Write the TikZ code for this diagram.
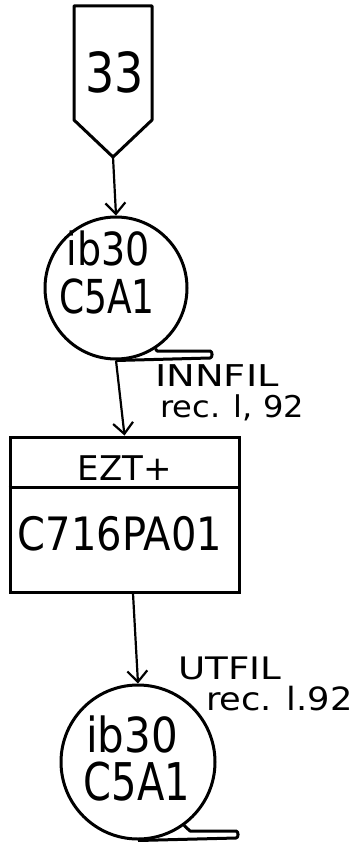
\documentclass[tikz,border=0pt]{standalone}
\usepackage{graphicx}
\usepackage{fontspec}
\setmainfont{DejaVu Sans}
\usetikzlibrary{arrows.meta}

\newcommand{\fs}[1]{\fontsize{#1}{#1}\selectfont}
\newcommand{\tall}[2]{\scalebox{1}[#1]{#2}}
\newcommand{\wide}[2]{\scalebox{#1}[1]{#2}}

\begin{document}
\begin{tikzpicture}[x=1pt, y=-1pt,
    flow/.style={line width=3pt, line join=round},
    link/.style={line width=2.2pt, -{Straight Barb[length=11pt,width=20pt]}},
    tape/.style={draw, circle, line width=3pt, inner sep=0pt},
    txt/.style={inner sep=0pt, anchor=base}]
  \useasboundingbox (0,0) rectangle (360,842);

  % off-page connector
  \draw[flow] (74,6) -- (152,6) -- (152,120) -- (113,157) coordinate (tip) -- (74,120) -- cycle;
  \node[txt, font=\fs{46}] (pg) at (115,93) {\tall{1.2}{33}};

  % input tape
  \node[tape, minimum size=142pt] (t1) at (116,288) {};
  \draw[flow] (t1.-57) -- (157,351) -- (210,351) to[out=0,in=0] (210,358) -- (t1.south);
  \node[txt, font=\fs{38}] (t1a) at (108,265) {\tall{1.2}{ib30}};
  \node[txt, font=\fs{36}] (t1b) at (107,313) {\tall{1.3}{C5A1}};

  % program box
  \node[draw, line width=3pt, minimum width=229pt, minimum height=155pt, inner sep=0pt] (box) at (124.5,514.5) {};
  \draw[flow] (box.west |- 0,487) -- (box.east |- 0,487);
  \node[txt, font=\fs{34}] (util) at (125,480) {EZT+};
  \node[txt, font=\fs{40}] (pgm) at (120,550) {\tall{1.15}{C716PA01}};

  % output tape
  \node[tape, minimum size=154pt] (t2) at (138,762) {};
  \draw[flow] (t2.-54.5) -- (190,831) -- (236,831) to[out=0,in=0] (236,838) -- (t2.south);
  \node[txt, font=\fs{42}] (t2a) at (132,752) {\tall{1.15}{ib30}};
  \node[txt, font=\fs{40}] (t2b) at (137,800) {\tall{1.3}{C5A1}};

  % flow lines
  \draw[link] (tip) -- (t1.north);
  \draw[link] (t1.south) -- (box.north);
  \draw[link] (box.south -| 133,0) -- (t2.north);

  % file labels
  \node[txt, anchor=base west, font=\fs{30}] (inn) at (155,386) {\wide{1.28}{INNFIL}};
  \node[txt, anchor=base west, font=\fs{30}] (innrec) at (160,417) {\wide{1.07}{rec. l, 92}};
  \node[txt, anchor=base west, font=\fs{31}] (ut) at (178,679) {\wide{1.2}{UTFIL}};
  \node[txt, anchor=base west, font=\fs{32}] (utrec) at (206,710) {\wide{1.1}{rec. l.92}};
\end{tikzpicture}
\end{document}
